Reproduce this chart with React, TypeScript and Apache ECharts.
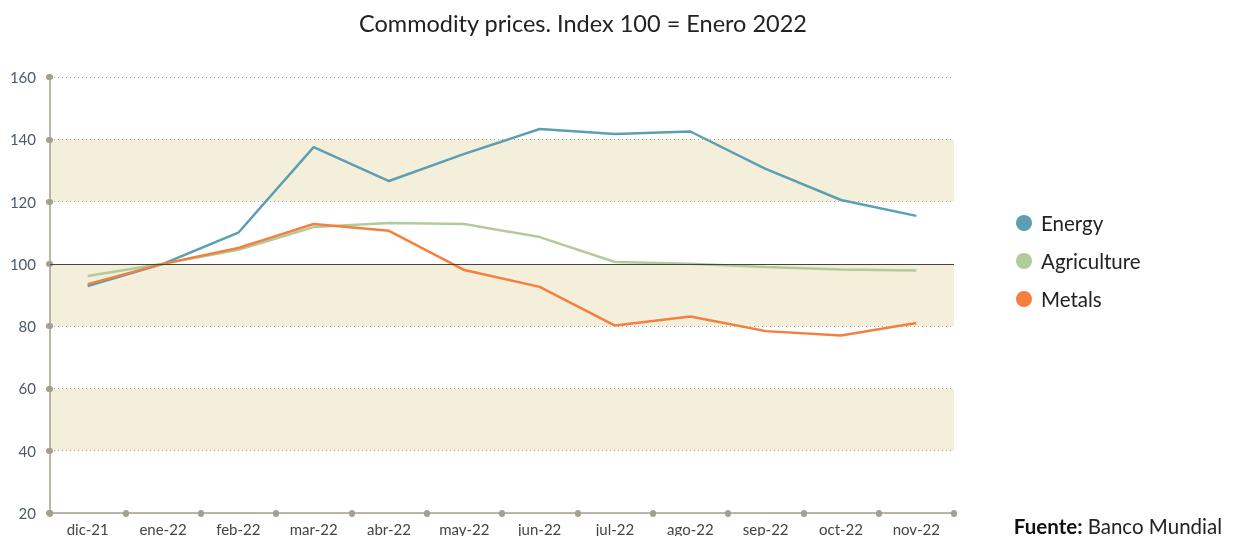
import React, { useEffect, useRef } from "react";
import * as echarts from "echarts";

const categories = ["dic-21", "ene-22", "feb-22", "mar-22", "abr-22", "may-22", "jun-22", "jul-22", "ago-22", "sep-22", "oct-22", "nov-22"];
const energy = [92.9, 100, 110, 137.5, 126.6, 135.3, 143.3, 141.7, 142.5, 130.5, 120.5, 115.4];
const agriculture = [96.1, 100, 104.5, 111.8, 113.1, 112.8, 108.6, 100.6, 100, 99, 98.2, 97.9];
const metals = [93.5, 100, 105.1, 112.8, 110.6, 98, 92.6, 80.2, 83.1, 78.4, 77, 81];

const FONT = "Lato, 'Open Sans', sans-serif";
const AXIS_GRAY = "#a59f8f";

export default function App() {
  const ref = useRef<HTMLDivElement>(null);
  useEffect(() => {
    if (!ref.current) return;
    const chart = echarts.init(ref.current, null, { renderer: "svg" });
    const lineSeries = (name: string, data: number[], color: string, extra: any = {}) => ({
      name,
      type: "line",
      data,
      symbol: "none",
      lineStyle: { color, width: 2.5 },
      itemStyle: { color },
      ...extra,
    });
    const dotTick = { show: true, length: 1, lineStyle: { color: AXIS_GRAY, width: 6, cap: "round" } };
    chart.setOption({
      animation: false,
      textStyle: { fontFamily: FONT },
      title: {
        text: "Commodity prices. Index 100 = Enero 2022",
        left: 578,
        textAlign: "center",
        top: 6,
        textStyle: { fontFamily: FONT, fontSize: 23.5, fontWeight: "normal", color: "#222" },
      },
      legend: {
        orient: "vertical",
        left: 1011,
        top: 206,
        itemGap: 14,
        itemWidth: 16,
        itemHeight: 16,
        icon: "circle",
        textStyle: { fontFamily: FONT, fontSize: 20.5, lineHeight: 24, color: "#222", padding: [0, 0, 0, 4] },
        data: ["Energy", "Agriculture", "Metals"],
      },
      grid: { left: 50, right: 280, top: 77, bottom: 23, containLabel: false },
      xAxis: {
        type: "category",
        data: categories,
        boundaryGap: true,
        axisLine: { lineStyle: { color: AXIS_GRAY, width: 1.5 } },
        axisTick: dotTick,
        axisLabel: { color: "#444", fontSize: 15, margin: 8, fontFamily: FONT },
      },
      yAxis: {
        type: "value",
        min: 20,
        max: 160,
        interval: 20,
        axisLine: { show: true, lineStyle: { color: AXIS_GRAY, width: 1.5 } },
        axisTick: dotTick,
        axisLabel: { color: "#4b5b6b", fontSize: 15, margin: 14, fontFamily: FONT },
        splitLine: { show: true, lineStyle: { color: "#a9a594", type: [1, 3], width: 1 } },
        splitArea: { show: true, areaStyle: { color: ["#ffffff", "#f4efdb"] } },
      },
      series: [
        lineSeries("Energy", energy, "#5c9fb5", {
          markLine: {
            silent: true,
            symbol: "none",
            label: { show: false },
            lineStyle: { color: "#444", width: 1.2, type: "solid" },
            data: [{ yAxis: 100 }],
          },
        }),
        lineSeries("Agriculture", agriculture, "#afcc9a"),
        lineSeries("Metals", metals, "#f47f3e"),
      ],
      graphic: [
        {
          type: "text",
          right: 12,
          top: 515,
          style: {
            text: "{b|Fuente:} Banco Mundial",
            rich: {
              b: { fontWeight: "bold", fontSize: 20.5, lineHeight: 20, fontFamily: FONT, fill: "#111" },
            },
            fontSize: 20.5,
            lineHeight: 20,
            fontFamily: FONT,
            fill: "#222",
          },
        },
      ],
    });
    return () => chart.dispose();
  }, []);
  return <div ref={ref} style={{ position: "fixed", left: 0, top: 0, width: 1234, height: 536 }} />;
}
